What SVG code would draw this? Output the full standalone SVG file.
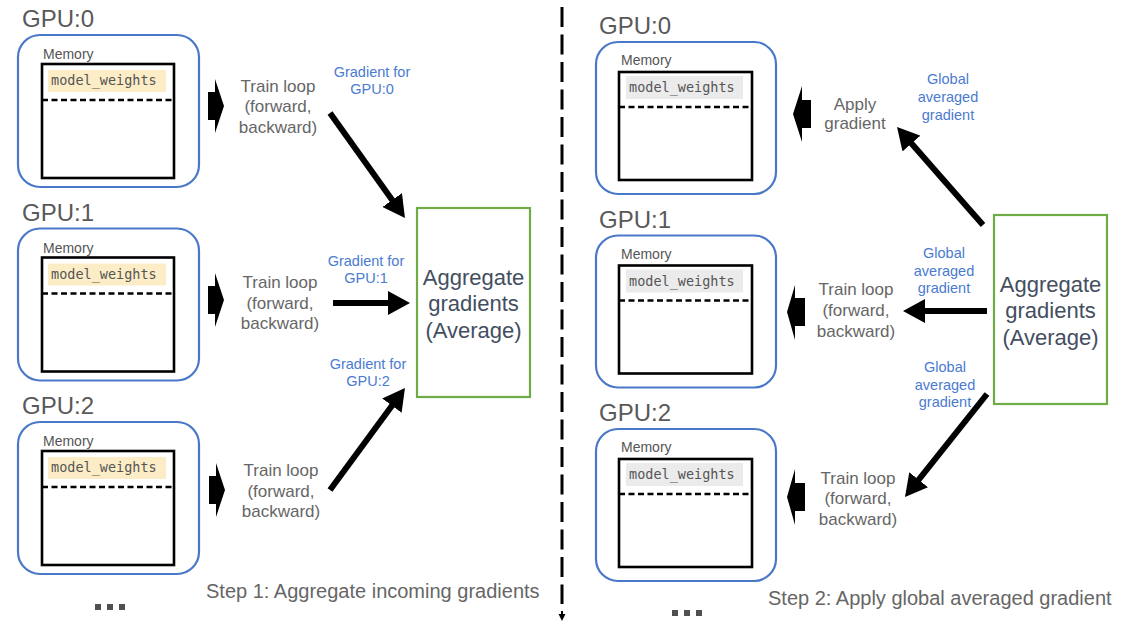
<svg xmlns="http://www.w3.org/2000/svg" width="1135" height="622" viewBox="0 0 1135 622">
  <style>
    text { font-family: "Liberation Sans", Arial, sans-serif; }
    .gpu { font-size: 24px; fill: #595959; }
    .mem { font-size: 14px; fill: #555555; }
    .code { font-family: "DejaVu Sans Mono", "Liberation Mono", monospace; font-size: 13.5px; fill: #555555; }
    .box { fill: #ffffff; stroke: #4a78c8; stroke-width: 2.2; }
    .inner { fill: #ffffff; stroke: #000000; stroke-width: 2.6; }
    .split { stroke: #000000; stroke-width: 2.6; stroke-dasharray: 6 3.5; }
    .hl-y { fill: #fcedc6; }
    .hl-g { fill: #ebebeb; }
    .step { font-size: 17px; fill: #666666; text-anchor: middle; }
    .lbl { font-size: 14.5px; fill: #4a7bd0; text-anchor: middle; }
    .agg-box { fill: #ffffff; stroke: #6fac46; stroke-width: 2.2; }
    .agg { font-size: 22px; fill: #434e5f; text-anchor: middle; }
    .caption { font-size: 20px; fill: #666666; }
    .flow { stroke: #000000; stroke-width: 6; fill: none; marker-end: url(#head); }
    .block { fill: #000000; }
    .dots { fill: #505050; }
  </style>
  <defs>
    <marker id="head" viewBox="0 0 22 24" refX="4" refY="12" markerWidth="22" markerHeight="24" markerUnits="userSpaceOnUse" orient="auto">
      <path d="M0,0 L22,12 L0,24 z" fill="#000000"/>
    </marker>
    <!-- one GPU with its memory, step 1 style -->
    <g id="gpu-left">
      <rect class="box" x="18" y="0" width="181" height="152" rx="22"/>
      <text class="mem" x="43" y="24">Memory</text>
      <rect class="inner" x="42" y="29" width="132" height="114"/>
      <rect class="hl-y" x="48" y="35" width="118" height="22"/>
      <text class="code" x="51" y="50">model_weights</text>
      <line class="split" x1="42" y1="65" x2="174" y2="65"/>
    </g>
    <!-- one GPU with its memory, step 2 style -->
    <g id="gpu-right">
      <rect class="box" x="596" y="0" width="180" height="152" rx="22"/>
      <text class="mem" x="621" y="23">Memory</text>
      <rect class="inner" x="619" y="30" width="133" height="108"/>
      <rect class="hl-g" x="626" y="34" width="117" height="23"/>
      <text class="code" x="629" y="50">model_weights</text>
      <line class="split" x1="619" y1="65" x2="752" y2="65"/>
    </g>
  </defs>

  <!-- divider between the two steps -->
  <g id="divider">
    <line x1="562" y1="7" x2="562" y2="604" stroke="#000000" stroke-width="3" stroke-dasharray="20 7.5"/>
    <line x1="562" y1="611" x2="562" y2="615" stroke="#000000" stroke-width="2"/>
    <polygon points="558.5,614 565.5,614 562,621" fill="#000000"/>
  </g>

  <!-- Step 1: GPUs -->
  <g id="l-gpu0">
    <text class="gpu" x="22" y="27">GPU:0</text>
    <use href="#gpu-left" transform="translate(0,35)"/>
  </g>
  <g id="l-gpu1">
    <text class="gpu" x="22" y="220.5">GPU:1</text>
    <use href="#gpu-left" transform="translate(0,228.5)"/>
  </g>
  <g id="l-gpu2">
    <text class="gpu" x="22" y="414">GPU:2</text>
    <use href="#gpu-left" transform="translate(0,422)"/>
  </g>

  <!-- Step 1: train loops -->
  <g id="l-train0">
    <polygon class="block" points="208,92 215,92 215,79 224,106 215,133 215,120 208,120"/>
    <text class="step" x="278" y="92">Train loop</text>
    <text class="step" x="278" y="112">(forward,</text>
    <text class="step" x="278" y="133">backward)</text>
  </g>
  <g id="l-train1">
    <polygon class="block" points="208,286 215,286 215,273 224,300 215,327 215,314 208,314"/>
    <text class="step" x="280" y="288">Train loop</text>
    <text class="step" x="280" y="309">(forward,</text>
    <text class="step" x="280" y="329">backward)</text>
  </g>
  <g id="l-train2">
    <polygon class="block" points="209,476 216,476 216,463 225,490 216,517 216,504 209,504"/>
    <text class="step" x="281" y="476">Train loop</text>
    <text class="step" x="281" y="497">(forward,</text>
    <text class="step" x="281" y="517">backward)</text>
  </g>

  <!-- Step 1: aggregation -->
  <g id="l-aggregate">
    <rect class="agg-box" x="417" y="208" width="113" height="189"/>
    <text class="agg" x="473.5" y="285">Aggregate</text>
    <text class="agg" x="473.5" y="311">gradients</text>
    <text class="agg" x="473.5" y="338">(Average)</text>
  </g>

  <!-- Step 2: GPUs -->
  <g id="r-gpu0">
    <text class="gpu" x="599" y="34">GPU:0</text>
    <use href="#gpu-right" transform="translate(0,42)"/>
  </g>
  <g id="r-gpu1">
    <text class="gpu" x="599" y="227.5">GPU:1</text>
    <use href="#gpu-right" transform="translate(0,235.5)"/>
  </g>
  <g id="r-gpu2">
    <text class="gpu" x="599" y="421">GPU:2</text>
    <use href="#gpu-right" transform="translate(0,429)"/>
  </g>

  <!-- Step 2: apply / train loops -->
  <g id="r-apply0">
    <polygon class="block" points="811,100 802,100 802,86 793,114 802,142 802,128 811,128"/>
    <text class="step" x="855" y="110">Apply</text>
    <text class="step" x="855" y="129">gradient</text>
  </g>
  <g id="r-train1">
    <polygon class="block" points="805,298 795,298 795,285 787,312 795,340 795,326 805,326"/>
    <text class="step" x="856" y="295">Train loop</text>
    <text class="step" x="856" y="316">(forward,</text>
    <text class="step" x="856" y="337">backward)</text>
  </g>
  <g id="r-train2">
    <polygon class="block" points="805,483 795,483 795,469 787,497 795,525 795,511 805,511"/>
    <text class="step" x="858" y="484">Train loop</text>
    <text class="step" x="858" y="504">(forward,</text>
    <text class="step" x="858" y="525">backward)</text>
  </g>

  <!-- Step 2: aggregation -->
  <g id="r-aggregate">
    <rect class="agg-box" x="994" y="215" width="113" height="189"/>
    <text class="agg" x="1050.5" y="292">Aggregate</text>
    <text class="agg" x="1050.5" y="318">gradients</text>
    <text class="agg" x="1050.5" y="345">(Average)</text>
  </g>

  <!-- gradient flows -->
  <g id="connectors">
    <line class="flow" x1="330" y1="113" x2="394.5" y2="203.3"/>
    <line class="flow" x1="333" y1="303" x2="392" y2="303"/>
    <line class="flow" x1="330" y1="490" x2="394.3" y2="402.5"/>
    <line class="flow" x1="983" y1="225" x2="908.9" y2="140.5"/>
    <line class="flow" x1="987" y1="311" x2="921" y2="311"/>
    <line class="flow" x1="987" y1="394" x2="916.2" y2="482.9"/>

    <text class="lbl" x="372" y="77">Gradient for</text>
    <text class="lbl" x="372" y="94">GPU:0</text>
    <text class="lbl" x="366" y="266">Gradient for</text>
    <text class="lbl" x="366" y="283">GPU:1</text>
    <text class="lbl" x="368" y="369">Gradient for</text>
    <text class="lbl" x="368" y="386">GPU:2</text>

    <text class="lbl" x="948" y="84">Global</text>
    <text class="lbl" x="948" y="102">averaged</text>
    <text class="lbl" x="948" y="120">gradient</text>
    <text class="lbl" x="944" y="258">Global</text>
    <text class="lbl" x="944" y="276">averaged</text>
    <text class="lbl" x="944" y="293">gradient</text>
    <text class="lbl" x="945" y="372">Global</text>
    <text class="lbl" x="945" y="390">averaged</text>
    <text class="lbl" x="945" y="407">gradient</text>
  </g>

  <!-- captions and continuation marks -->
  <g id="captions">
    <text class="caption" x="206" y="598">Step 1: Aggregate incoming gradients</text>
    <text class="caption" x="768" y="605">Step 2: Apply global averaged gradient</text>
    <rect class="dots" x="95" y="604" width="6" height="6"/>
    <rect class="dots" x="107" y="604" width="6" height="6"/>
    <rect class="dots" x="119" y="604" width="6" height="6"/>
    <rect class="dots" x="672" y="610" width="6" height="6"/>
    <rect class="dots" x="684" y="610" width="6" height="6"/>
    <rect class="dots" x="696" y="610" width="6" height="6"/>
  </g>
</svg>
